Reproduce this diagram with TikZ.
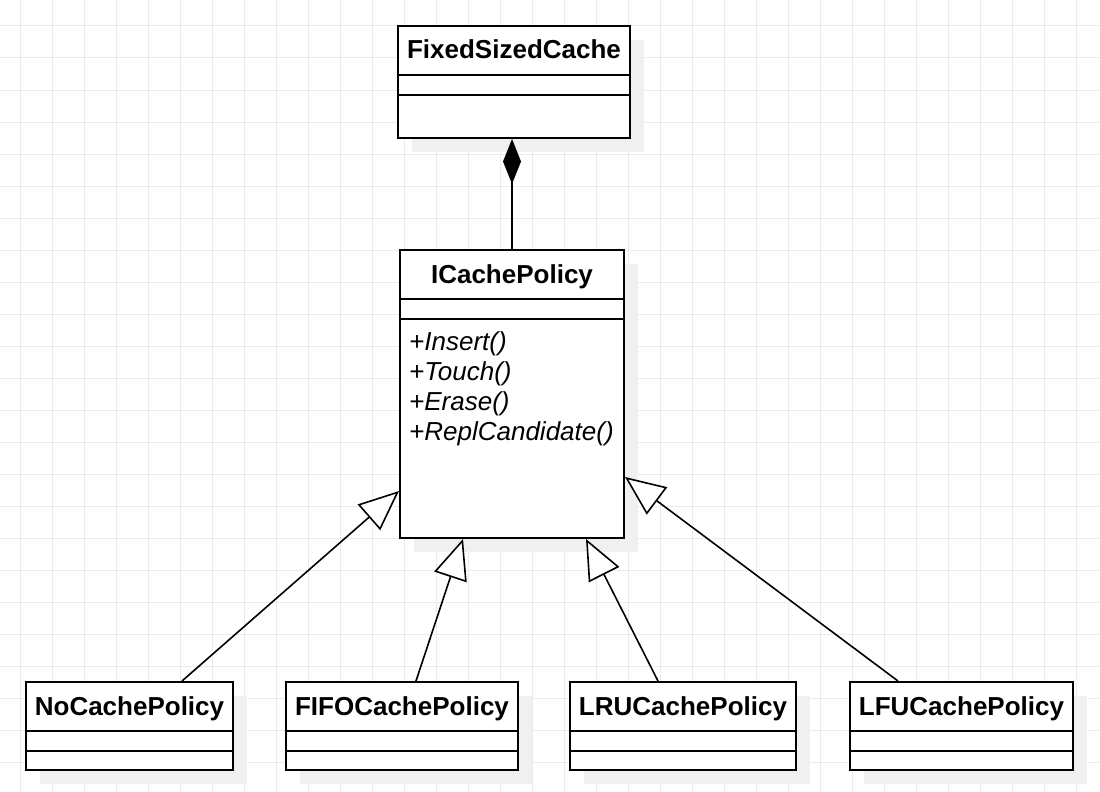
\documentclass[tikz,border=0pt]{standalone}
\usepackage{fontspec}
\setmainfont{Liberation Sans}
\usetikzlibrary{arrows.meta,shadows}
\begin{document}
\begin{tikzpicture}[x=1pt,y=-1pt,
  cls/.style={draw=black, line width=2pt, fill=white, inner sep=0pt,
    drop shadow={shadow xshift=14pt, shadow yshift=-14pt, fill=black!6, opacity=1, draw=none}},
  ttl/.style={font=\fontsize{26}{30}\selectfont\bfseries, inner sep=0pt, text depth=0pt, anchor=base},
  mth/.style={font=\fontsize{26}{30}\selectfont\itshape, inner sep=0pt, anchor=base west},
  dv/.style={line width=2pt},
  gridline/.style={draw=black!8, line width=1pt},
  gen/.style={line width=1.6pt, -{Triangle[length=40pt,width=34pt,fill=white]}},
  comp/.style={line width=1.8pt, {Diamond[length=45pt,width=18pt]}-},
]
\useasboundingbox (0,0) rectangle (1100,792);
\fill[white] (0,0) rectangle (1100,792);
\foreach \x in {20,52,...,1100} \draw[gridline] (\x,0) -- (\x,792);
\foreach \y in {26,58,...,792} \draw[gridline] (0,\y) -- (1100,\y);

% classes
\node[cls, minimum width=232pt, minimum height=112pt] (fixed) at (514,82) {};
\node[cls, minimum width=224pt, minimum height=288pt] (policy) at (512,394) {};
\node[cls, minimum width=207pt, minimum height=88pt] (no) at (129.5,726) {};
\node[cls, minimum width=232pt, minimum height=88pt] (fifo) at (402,726) {};
\node[cls, minimum width=226pt, minimum height=88pt] (lru) at (683,726) {};
\node[cls, minimum width=223pt, minimum height=88pt] (lfu) at (961.5,726) {};

% dividers
\foreach \n/\a/\b in {fixed/50/70, policy/50/70, no/50/70, fifo/50/70, lru/50/70, lfu/50/70}{
  \draw[dv] ([yshift=-\a pt]\n.north west) -- ([yshift=-\a pt]\n.north east);
  \draw[dv] ([yshift=-\b pt]\n.north west) -- ([yshift=-\b pt]\n.north east);
}

% titles
\node[ttl] (fixedT) at ([yshift=-34pt]fixed.north) {FixedSizedCache};
\node[ttl] (policyT) at ([yshift=-34pt]policy.north) {ICachePolicy};
\node[ttl] (noT) at ([yshift=-34pt]no.north) {NoCachePolicy};
\node[ttl] (fifoT) at ([yshift=-34pt]fifo.north) {FIFOCachePolicy};
\node[ttl] (lruT) at ([yshift=-34pt]lru.north) {LRUCachePolicy};
\node[ttl] (lfuT) at ([yshift=-34pt]lfu.north) {LFUCachePolicy};

% methods
\node[mth] (m1) at ([xshift=10pt,yshift=-101pt]policy.north west) {+Insert()};
\node[mth] (m2) at ([xshift=10pt,yshift=-131pt]policy.north west) {+Touch()};
\node[mth] (m3) at ([xshift=10pt,yshift=-161pt]policy.north west) {+Erase()};
\node[mth] (m4) at ([xshift=10pt,yshift=-191pt]policy.north west) {+ReplCandidate()};

% composition
\draw[comp] (fixed.south -| policy.north) -- (policy.north);

% generalizations
\draw[gen] ([xshift=52.5pt]no.north) -- ([yshift=-97pt]policy.west);
\draw[gen] ([xshift=14pt]fifo.north) -- ([xshift=-49pt]policy.south);
\draw[gen] ([xshift=-25pt]lru.north) -- ([xshift=74pt]policy.south);
\draw[gen] ([xshift=-63.5pt]lfu.north) -- ([yshift=-83pt]policy.east);
\end{tikzpicture}
\end{document}
